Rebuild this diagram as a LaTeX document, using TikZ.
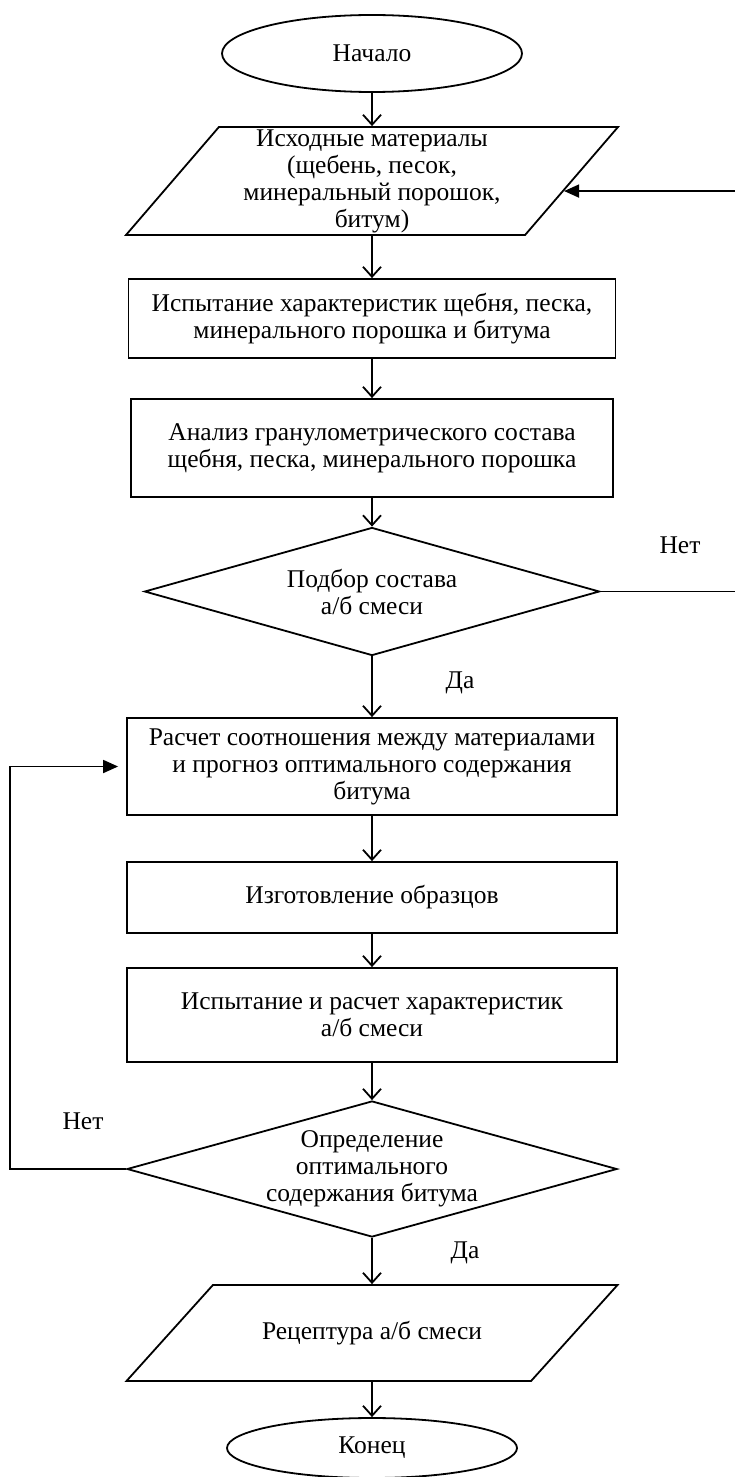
\documentclass[tikz,border=0pt]{standalone}
\usepackage{fontspec}
\setmainfont{Liberation Serif}
\usetikzlibrary{shapes.geometric,arrows.meta}
\begin{document}
\begin{tikzpicture}[x=1pt,y=-1pt,line width=1.8pt,
		font=\fontsize{25.5}{27}\selectfont,
		term/.style={draw,ellipse,inner sep=0pt},
		proc/.style={draw,rectangle,inner sep=0pt,align=center},
		io/.style={draw,trapezium,trapezium left angle=48,trapezium right angle=132,
			trapezium stretches body,inner sep=0pt,align=center},
		decide/.style={draw,diamond,aspect=3.6,inner sep=0pt,align=center},
		flow/.style={-{Straight Barb[length=10pt,width=18pt]}},
		back/.style={-{Triangle[length=15pt,width=13pt]}}]
		\useasboundingbox (0,0) rectangle (734,1477);
		\node[term,minimum width=300,minimum height=77](start) at (372,53.5){Начало};
		\node[io,minimum width=492,minimum height=108](src) at (372,181){Исходные материалы\\(щебень, песок,\\минеральный порошок,\\битум)};
		\node[proc,minimum width=487,minimum height=79](test) at (372,318.5){Испытание характеристик щебня, песка,\\минерального порошка и битума};
		\node[proc,minimum width=482,minimum height=98](gran) at (372,448){Анализ гранулометрического состава\\щебня, песка, минерального порошка};
		\node[decide,minimum width=455,minimum height=128](mix) at (372,591.5){Подбор состава\\а/б смеси};
		\node[proc,minimum width=490,minimum height=97](calc) at (372,766.5){Расчет соотношения между материалами\\и прогноз оптимального содержания\\битума};
		\node[proc,minimum width=490,minimum height=71](make) at (372,897.5){Изготовление образцов};
		\node[proc,minimum width=490,minimum height=94](char) at (372,1015){Испытание и расчет характеристик\\а/б смеси};
		\node[decide,minimum width=490,minimum height=136](opt) at (372,1169){Определение\\оптимального\\содержания битума};
		\node[io,minimum width=491,text height=54pt,text depth=42pt](recipe) at (372,1333){Рецептура а/б смеси};
		\node[term,minimum width=290,minimum height=60](stop) at (372,1448){Конец};
		\node(no1) at (680,545){Нет};
		\node(yes1) at (460,683){Да};
		\node(no2) at (83,1121){Нет};
		\node(yes2) at (465,1253){Да};
		\foreach \a/\b in {start/src,src/test,test/gran,gran/mix,mix/calc,calc/make,make/char,char/opt,opt/recipe,recipe/stop}
			\draw[flow](\a)--(\b);
		\draw[back](mix.east)--++(143,0)|-(src.-3.4);
		\draw[back,shorten >=8pt](opt.west)--++(-116,0)|-(calc.west);
	\end{tikzpicture}
\end{document}
